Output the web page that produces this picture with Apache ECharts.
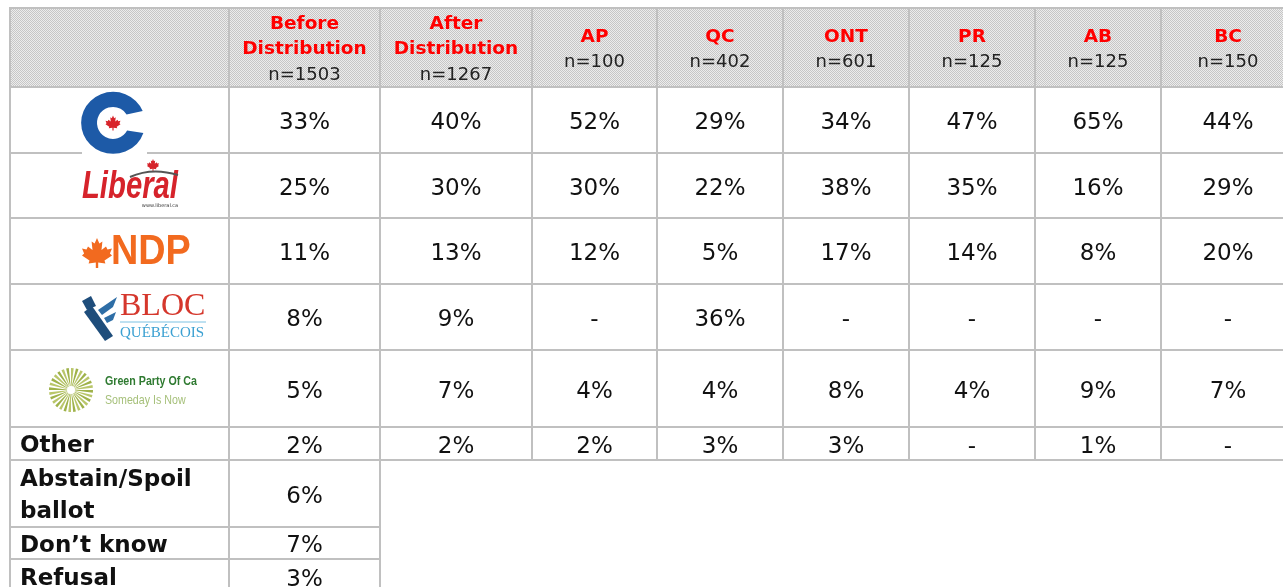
<!DOCTYPE html>
<html>
<head>
<meta charset="utf-8">
<script src="https://cdn.jsdelivr.net/npm/echarts@6/dist/echarts.min.js"></script>
<style>
  html, body { margin: 0; padding: 0; background: #fff; }
  #chart { width: 1283px; height: 587px; }
</style>
</head>
<body>
<div id="chart"></div>
<script>
// column headers and sample sizes
const columnNames = ['Before\nDistribution', 'After\nDistribution', 'AP', 'QC', 'ONT', 'PR', 'AB', 'BC'];
const sampleSizes = [1503, 1267, 100, 402, 601, 125, 125, 150];

// party rows (null = "-")
const parties = ['Conservative', 'Liberal', 'NDP', 'Bloc Québécois', 'Green Party'];
const conservative = [33, 40, 52, 29, 34, 47, 65, 44];
const liberal = [25, 30, 30, 22, 38, 35, 16, 29];
const ndp = [11, 13, 12, 5, 17, 14, 8, 20];
const bloc = [8, 9, null, 36, null, null, null, null];
const green = [5, 7, 4, 4, 8, 4, 9, 7];
const other = [2, 2, 2, 3, 3, null, 1, null];

// rows only asked before distribution
const extraLabels = ['Abstain/Spoil\nballot', 'Don\u2019t know', 'Refusal'];
const extraValues = [6, 7, 3];

// layout of the table (pixel grid of the picture)
const colEdges = [10, 229, 380, 532, 657, 783, 909, 1035, 1161, 1295];
const rowEdges = [8, 87, 153, 218, 284, 350, 427, 460, 527, 559, 594];

const FONT = '"DejaVu Sans", Verdana, sans-serif';
const GRID_LINE = '#c0c0c0';
const RED = '#ff0000';

// stippled grey header background
const patCanvas = document.createElement('canvas');
patCanvas.width = 2; patCanvas.height = 2;
const pctx = patCanvas.getContext('2d');
pctx.fillStyle = '#ececec'; pctx.fillRect(0, 0, 2, 2);
pctx.fillStyle = '#c6c6c6'; pctx.fillRect(0, 0, 1, 1); pctx.fillRect(1, 1, 1, 1);
const headerFill = { image: patCanvas, repeat: 'repeat' };

const fmt = (v) => (v === null ? '-' : v + '%');

// build the cell list
const cells = [];
cells.push({ col: 0, row: 0, kind: 'header', text: '' });
columnNames.forEach((name, i) => {
  cells.push({ col: i + 1, row: 0, kind: 'header', text: name, sub: 'n=' + sampleSizes[i] });
});
[conservative, liberal, ndp, bloc, green].forEach((vals, r) => {
  cells.push({ col: 0, row: r + 1, kind: 'logo', text: '' });
  vals.forEach((v, i) => cells.push({ col: i + 1, row: r + 1, kind: 'value', text: fmt(v) }));
});
cells.push({ col: 0, row: 6, kind: 'label', text: 'Other' });
other.forEach((v, i) => cells.push({ col: i + 1, row: 6, kind: 'value', text: fmt(v) }));
extraLabels.forEach((lab, r) => {
  cells.push({ col: 0, row: 7 + r, kind: 'label', text: lab });
  cells.push({ col: 1, row: 7 + r, kind: 'value', text: fmt(extraValues[r]) });
});

function renderCell(params, api) {
  const cell = cells[params.dataIndex];
  const c = api.value(0), r = api.value(1);
  const p0 = api.coord([colEdges[c], rowEdges[r]]);
  const p1 = api.coord([colEdges[c + 1], rowEdges[r + 1]]);
  const w = p1[0] - p0[0], h = p1[1] - p0[1];
  const cx = p0[0] + w / 2, cy = p0[1] + h / 2;
  const children = [{
    type: 'rect',
    shape: { x: p0[0], y: p0[1], width: w, height: h },
    style: { fill: cell.kind === 'header' ? headerFill : '#fff', stroke: GRID_LINE, lineWidth: 2 }
  }];
  if (cell.kind === 'header' && cell.text) {
    const lines = cell.text.split('\n');
    const all = lines.length + 1;
    const lh = 25.5;
    lines.forEach((t, k) => {
      children.push({
        type: 'text', x: cx, y: cy + 2 + (k - (all - 1) / 2) * lh,
        style: { text: t, fill: RED, font: 'bold 18.5px ' + FONT, align: 'center', verticalAlign: 'middle' }
      });
    });
    children.push({
      type: 'text', x: cx, y: cy + 2 + (all - 1) / 2 * lh,
      style: { text: cell.sub, fill: '#222', font: '18px ' + FONT, align: 'center', verticalAlign: 'middle' }
    });
  } else if (cell.kind === 'value') {
    children.push({
      type: 'text', x: cx, y: cy + 3.5,
      style: { text: cell.text, fill: '#111', font: '23px ' + FONT, align: 'center', verticalAlign: 'middle' }
    });
  } else if (cell.kind === 'label') {
    children.push({
      type: 'text', x: p0[0] + 10, y: cy + 3,
      style: { text: cell.text, fill: '#111', font: 'bold 23px ' + FONT, align: 'left', verticalAlign: 'middle', lineHeight: 32 }
    });
  }
  return { type: 'group', children };
}

const LEAF = 'M50 0 L58 18 L68 12 L65 40 L80 28 L85 38 L100 35 L93 52 L100 58 L75 75 L78 85 L54 82 L54 100 L46 100 L46 82 L22 85 L25 75 L0 58 L7 52 L0 35 L15 38 L20 28 L35 40 L32 12 L42 18 Z';

function leaf(x, y, w, h, color) {
  return { type: 'path', shape: { pathData: LEAF, x: x - w / 2, y: y - h / 2, width: w, height: h, layout: 'center' }, style: { fill: color } };
}

// party logos, drawn relative to the label cell's top-left corner
function logoParts(name, x0, y0) {
  const X = (v) => x0 + v, Y = (v) => y0 + v;
  if (name === 'Conservative') {
    const cx = X(103), cy = Y(36);
    const pt = (r, deg) => (cx + r * Math.cos(deg * Math.PI / 180)).toFixed(1) + ' ' + (cy + r * Math.sin(deg * Math.PI / 180)).toFixed(1);
    const cPath = 'M ' + pt(32, -22) + ' A 32 31 0 1 0 ' + pt(32, 18) + ' L ' + pt(16, 28) + ' A 16 16 0 1 1 ' + pt(16, -32) + ' Z';
    return [
      { type: 'rect', shape: { x: X(72), y: Y(3), width: 65, height: 66 }, style: { fill: '#fff' } },
      { type: 'path', shape: { pathData: cPath }, style: { fill: '#1d5aa7' } },
      leaf(X(103), Y(36), 15, 15, '#d8232a')
    ];
  }
  if (name === 'Liberal') {
    return [
      { type: 'text', x: X(72), y: Y(35), scaleX: 0.77,
        style: { text: 'Liberal', fill: '#d6232b', font: 'italic bold 38px "Liberation Sans", Arial, sans-serif', align: 'left', verticalAlign: 'middle' } },
      leaf(X(143), Y(12), 13, 12, '#d6232b'),
      { type: 'bezierCurve', shape: { x1: X(120), y1: Y(24), x2: X(168), y2: Y(22), cpx1: X(142), cpy1: Y(14) }, style: { stroke: '#555', lineWidth: 2, fill: null } },
      { type: 'text', x: X(150), y: Y(53), style: { text: 'www.liberal.ca', fill: '#333', font: '5px ' + FONT, align: 'center', verticalAlign: 'middle' } }
    ];
  }
  if (name === 'NDP') {
    return [
      leaf(X(87), Y(35), 30, 45, '#f26a1f'),
      { type: 'text', x: X(101), y: Y(34), scaleX: 0.9,
        style: { text: 'NDP', fill: '#f26a1f', font: 'bold 42px "Liberation Sans", Arial, sans-serif', align: 'left', verticalAlign: 'middle' } }
    ];
  }
  if (name === 'Bloc Québécois') {
    return [
      { type: 'polygon', shape: { points: [[X(74), Y(28)], [X(82), Y(22)], [X(103), Y(52)], [X(95), Y(57)]] }, style: { fill: '#1e4d7b' } },
      { type: 'polygon', shape: { points: [[X(72), Y(17)], [X(81), Y(12)], [X(86), Y(22)], [X(77), Y(26)]] }, style: { fill: '#1e4d7b' } },
      { type: 'polygon', shape: { points: [[X(88), Y(26)], [X(107), Y(13)], [X(103), Y(23)], [X(92), Y(31)]] }, style: { fill: '#2e6ea6' } },
      { type: 'polygon', shape: { points: [[X(94), Y(34)], [X(106), Y(28)], [X(103), Y(36)], [X(97), Y(39)]] }, style: { fill: '#2e6ea6' } },
      { type: 'text', x: X(110), y: Y(23), style: { text: 'BLOC', fill: '#d5372c', font: '32px "Liberation Serif", "DejaVu Serif", serif', align: 'left', verticalAlign: 'middle' } },
      { type: 'line', shape: { x1: X(110), y1: Y(38), x2: X(196), y2: Y(38) }, style: { stroke: '#7cc2e3', lineWidth: 1 } },
      { type: 'text', x: X(110), y: Y(49), style: { text: 'QUÉBÉCOIS', fill: '#3aa0d2', font: '15px "Liberation Serif", "DejaVu Serif", serif', align: 'left', verticalAlign: 'middle' } }
    ];
  }
  // Green Party
  const parts = [];
  const n = 28;
  for (let k = 0; k < n; k++) {
    const a0 = (k / n) * Math.PI * 2, a1 = ((k + 0.55) / n) * Math.PI * 2;
    parts.push({ type: 'sector', shape: { cx: X(61), cy: Y(40), r: 22, r0: 3, startAngle: a0, endAngle: a1 }, style: { fill: k % 2 ? '#b9c66a' : '#9fb24a' } });
  }
  parts.push({ type: 'circle', shape: { cx: X(61), cy: Y(40), r: 4 }, style: { fill: '#fff' } });
  parts.push({ type: 'text', x: X(95), y: Y(31), scaleX: 0.82,
    style: { text: 'Green Party Of Ca', fill: '#2f7a31', font: 'bold 13px "Liberation Sans", Arial, sans-serif', align: 'left', verticalAlign: 'middle' } });
  parts.push({ type: 'text', x: X(95), y: Y(50), scaleX: 0.82,
    style: { text: 'Someday Is Now', fill: '#a6c07a', font: '13px "Liberation Sans", Arial, sans-serif', align: 'left', verticalAlign: 'middle' } });
  return parts;
}

function renderLogo(params, api) {
  const r = api.value(1);
  const p0 = api.coord([colEdges[0], rowEdges[r]]);
  return { type: 'group', children: logoParts(parties[params.dataIndex], p0[0], p0[1]) };
}

const chart = echarts.init(document.getElementById('chart'), null, { renderer: 'canvas' });
chart.setOption({
  animation: false,
  grid: { left: 0, right: 0, top: 0, bottom: 0 },
  xAxis: { type: 'value', min: 0, max: 1283, show: false },
  yAxis: { type: 'value', min: 0, max: 587, inverse: true, show: false },
  series: [
    {
      type: 'custom',
      renderItem: renderCell,
      data: cells.map((c) => [c.col, c.row]),
      z: 2
    },
    {
      type: 'custom',
      renderItem: renderLogo,
      data: parties.map((p, i) => [0, i + 1]),
      z: 3
    }
  ]
});
</script>
</body>
</html>
